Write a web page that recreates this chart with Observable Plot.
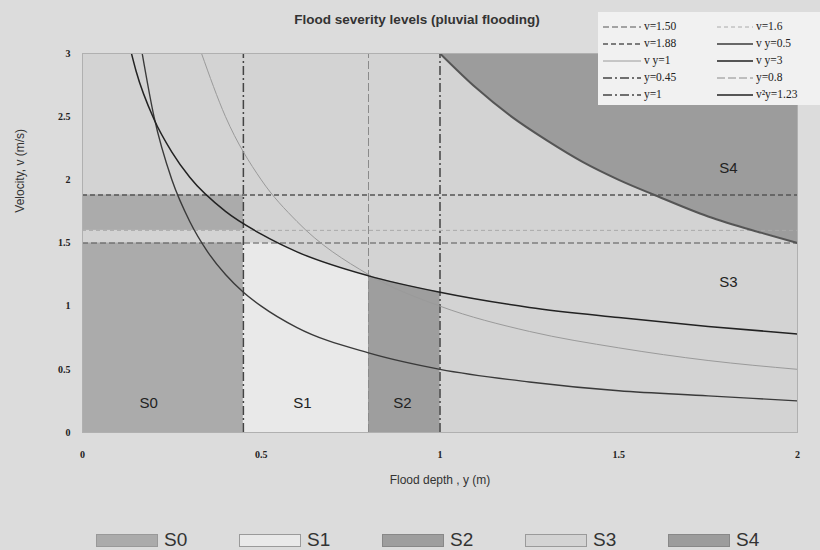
<!DOCTYPE html>
<html><head><meta charset="utf-8">
<script src="https://cdn.jsdelivr.net/npm/d3@7"></script>
<script src="https://cdn.jsdelivr.net/npm/@observablehq/plot@0.6"></script>
<style>
body{margin:0;background:#dcdcdc;width:820px;height:550px;overflow:hidden;position:relative;font-family:"Liberation Sans",Arial,sans-serif}
#title{position:absolute;top:12px;left:0;width:834px;text-align:center;font-size:13.5px;font-weight:bold;color:#333}
#chart{position:absolute;top:40px;left:0}
#lgbox{position:absolute;left:598px;top:12px;width:222px;height:93px;background:#f1f1f1}
.lrow{position:absolute;height:14px;font-family:"Liberation Serif",serif;font-size:11.5px;color:#222;line-height:14px;white-space:nowrap}
.lrow svg{vertical-align:middle}
.bitem{position:absolute;top:530px;height:20px;line-height:20px;display:flex;align-items:center;font-size:19px;color:#333}
.bitem span.sw{display:inline-block;width:62px;height:13px;margin-right:6px;box-sizing:border-box}
</style>
</head><body>
<div id="title">Flood severity levels (pluvial flooding)</div>
<div id="chart"></div>
<div id="lgbox"></div>
<script>
// ---- data ----
const xTicks = [0, 0.5, 1, 1.5, 2];
const yTicks = [0, 0.5, 1, 1.5, 2, 2.5, 3];
const velocityLines = [1.5, 1.6, 1.88];
const velocityNames = ["v=1.50", "v=1.6", "v=1.88"];
const depthLines = [0.45, 0.8, 1];
const depthNames = ["y=0.45", "y=0.8", "y=1"];

const curveNames = ["v y=0.5", "v²y=1.23", "v y=1", "v y=3"];
const curveDepths = [
  [0.167,0.2,0.25,0.3,0.35,0.4,0.45,0.5,0.6,0.8,1,1.25,1.5,1.75,2],
  [0.137,0.15,0.2,0.25,0.3,0.4,0.5,0.6,0.8,1,1.25,1.5,1.75,2],
  [0.333,0.4,0.5,0.6,0.8,1,1.25,1.5,1.75,2],
  [1,1.1,1.2,1.3,1.4,1.5,1.6,1.75,1.9,2]
];
const curveVels = [
  [3,2.5,2,1.67,1.43,1.25,1.11,1,0.83,0.63,0.5,0.4,0.33,0.29,0.25],
  [3,2.86,2.48,2.22,2.02,1.75,1.57,1.43,1.24,1.11,0.99,0.91,0.84,0.78],
  [3,2.5,2,1.67,1.25,1,0.8,0.67,0.57,0.5],
  [3,2.73,2.5,2.31,2.14,2,1.88,1.71,1.58,1.5]
];

const s0Depth = [0, 0.45];
const s0Bands = [[0, 1.5], [1.6, 1.88]];
const s1Depth = [0.45, 0.546, 0.6, 0.7, 0.8];
const s1Vel = [1.5, 1.5, 1.43, 1.33, 1.24];
const s2Depth = [0.8, 0.9, 1];
const s2Vel = [1.24, 1.17, 1.11];

const classNames = ["S0", "S1", "S2", "S3", "S4"];
const classLabelDepth = [0.185, 0.615, 0.895, 1.807, 1.807];
const classLabelVel = [0.23, 0.23, 0.23, 1.19, 2.09];

const legendLeft = ["v=1.50", "v=1.88", "v y=1", "y=0.45", "y=1"];
const legendRight = ["v=1.6", "v y=0.5", "v y=3", "y=0.8", "v²y=1.23"];

// ---- styles ----
const lineStyle = {
  "v=1.50": {stroke: "#555", w: 1.2, dash: "6,3"},
  "v=1.88": {stroke: "#555", w: 1.3, dash: "5,3"},
  "v=1.6": {stroke: "#aaa", w: 1, dash: "4,3"},
  "v y=1": {stroke: "#9a9a9a", w: 1, dash: null},
  "y=0.45": {stroke: "#444", w: 1.5, dash: "9,3,2,3"},
  "y=1": {stroke: "#444", w: 1.5, dash: "9,3,2,3"},
  "y=0.8": {stroke: "#8a8a8a", w: 1, dash: "8,3"},
  "v y=0.5": {stroke: "#3a3a3a", w: 1.4, dash: null},
  "v y=3": {stroke: "#555", w: 2, dash: null},
  "v²y=1.23": {stroke: "#222", w: 1.5, dash: null}
};
const classFill = {S0: "#ababab", S1: "#e9e9e9", S2: "#9e9e9e", S3: "#d3d3d3", S4: "#9c9c9c"};
const sansFont = "Liberation Sans, Arial, sans-serif";

// ---- build ----
const toPts = (xs, ys) => xs.map((x, i) => ({x, y: ys[i]}));
const s0Rects = s0Bands.map(b => ({x1: s0Depth[0], x2: s0Depth[1], y1: b[0], y2: b[1]}));
const s4Idx = curveNames.indexOf("v y=3");
const s4Pts = toPts(curveDepths[s4Idx], curveVels[s4Idx]);

const marks = [
  Plot.frame({fill: classFill.S3}),
  Plot.areaY(s4Pts, {x: "x", y1: "y", y2: 3, fill: classFill.S4, curve: "monotone-x"}),
  Plot.rect(s0Rects, {x1: "x1", x2: "x2", y1: "y1", y2: "y2", fill: classFill.S0}),
  Plot.areaY(toPts(s1Depth, s1Vel), {x: "x", y1: 0, y2: "y", fill: classFill.S1, curve: "monotone-x"}),
  Plot.areaY(toPts(s2Depth, s2Vel), {x: "x", y1: 0, y2: "y", fill: classFill.S2, curve: "monotone-x"})
];
velocityLines.forEach((v, i) => {
  const s = lineStyle[velocityNames[i]];
  marks.push(Plot.ruleY([v], {stroke: s.stroke, strokeWidth: s.w, strokeDasharray: s.dash}));
});
depthLines.forEach((d, i) => {
  const s = lineStyle[depthNames[i]];
  marks.push(Plot.ruleX([d], {y1: 0, y2: 3, stroke: s.stroke, strokeWidth: s.w, strokeDasharray: s.dash}));
});
["v y=1", "v y=3", "v y=0.5", "v²y=1.23"].forEach(name => {
  const i = curveNames.indexOf(name);
  const s = lineStyle[name];
  marks.push(Plot.line(toPts(curveDepths[i], curveVels[i]), {x: "x", y: "y", stroke: s.stroke, strokeWidth: s.w, curve: "monotone-x", clip: true}));
});
marks.push(
  Plot.text(classNames.map((n, i) => ({n, x: classLabelDepth[i], y: classLabelVel[i]})),
    {x: "x", y: "y", text: "n", fontSize: 15, fill: "#222", fontFamily: sansFont}),
  Plot.frame({stroke: "#b0b0b0"}),
  Plot.axisX(xTicks, {tickSize: 0, tickPadding: 18, fontSize: 10, fontWeight: "bold", fill: "#222", label: null, tickFormat: d => String(d)}),
  Plot.axisY(yTicks, {tickSize: 0, tickPadding: 12, fontSize: 10, fontWeight: "bold", fill: "#222", label: null, tickFormat: d => String(d)}),
  Plot.text(["Flood depth , y (m)"], {x: 1, frameAnchor: "bottom", dy: 51, fontSize: 12, fill: "#333", fontFamily: sansFont}),
  Plot.text(["Velocity, v (m/s)"], {y: 1.74, frameAnchor: "left", dx: -62, rotate: -90, fontSize: 12, fill: "#333", fontFamily: sansFont})
);

const chart = Plot.plot({
  width: 820, height: 470,
  marginTop: 13, marginBottom: 78, marginLeft: 82, marginRight: 23,
  style: {background: "transparent", fontFamily: "Liberation Serif, serif", color: "#222"},
  x: {domain: [0, 2], label: null},
  y: {domain: [0, 3], label: null},
  marks
});
document.getElementById("chart").appendChild(chart);

// top-right line legend
const box = document.getElementById("lgbox");
function addRow(name, left, top, lineW) {
  const s = lineStyle[name];
  const row = document.createElement("div");
  row.className = "lrow";
  row.style.left = left + "px";
  row.style.top = top + "px";
  row.innerHTML = `<svg width="${lineW}" height="10"><line x1="0" x2="${lineW}" y1="5" y2="5" stroke="${s.stroke}" stroke-width="${s.w}" ${s.dash ? `stroke-dasharray="${s.dash}"` : ""}/></svg> ${name}`;
  box.appendChild(row);
}
legendLeft.forEach((n, i) => addRow(n, 5, 7 + i * 17, 38));
legendRight.forEach((n, i) => addRow(n, 119, 7 + i * 17, 36));

// bottom class legend
const swLeft = [96, 239, 382, 525, 668];
const swBorder = {S0: "#999", S1: "#9a9a9a", S2: "#888", S3: "#9a9a9a", S4: "#888"};
classNames.forEach((n, i) => {
  const it = document.createElement("div");
  it.className = "bitem";
  it.style.left = swLeft[i] + "px";
  it.innerHTML = `<span class="sw" style="background:${classFill[n]};border:1px solid ${swBorder[n]}"></span>${n}`;
  document.body.appendChild(it);
});
</script>
</body></html>
